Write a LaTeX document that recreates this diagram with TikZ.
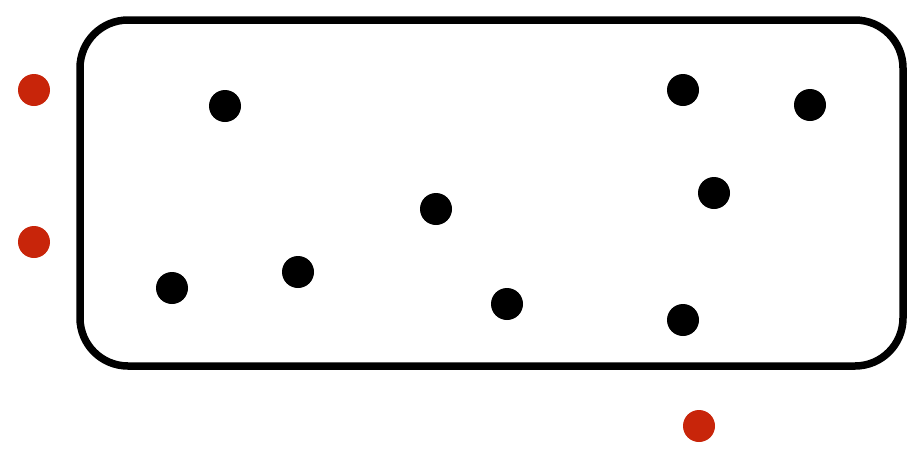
\documentclass[tikz,border=0pt]{standalone}
\definecolor{dotred}{HTML}{C8250A}
\tikzset{
  blackdot/.style={circle,fill=black,inner sep=0pt,minimum size=32pt},
  reddot/.style={circle,fill=dotred,inner sep=0pt,minimum size=32pt},
  frame/.style={draw=black,line width=7.5pt,rounded corners=48pt}
}
\begin{document}
\begin{tikzpicture}[x=1pt,y=-1pt]
\useasboundingbox (0,0) rectangle (916,451);
\draw[frame] (80,20) rectangle (903,366);
\node[blackdot] (b1) at (225,106) {};
\node[blackdot] (b2) at (683,90) {};
\node[blackdot] (b3) at (810,105) {};
\node[blackdot] (b4) at (714,193) {};
\node[blackdot] (b5) at (436,209) {};
\node[blackdot] (b6) at (298,272) {};
\node[blackdot] (b7) at (172,288) {};
\node[blackdot] (b8) at (507,304) {};
\node[blackdot] (b9) at (683,320) {};
\node[reddot] (r1) at (34,90) {};
\node[reddot] (r2) at (34,242) {};
\node[reddot] (r3) at (699,426) {};
\end{tikzpicture}
\end{document}
